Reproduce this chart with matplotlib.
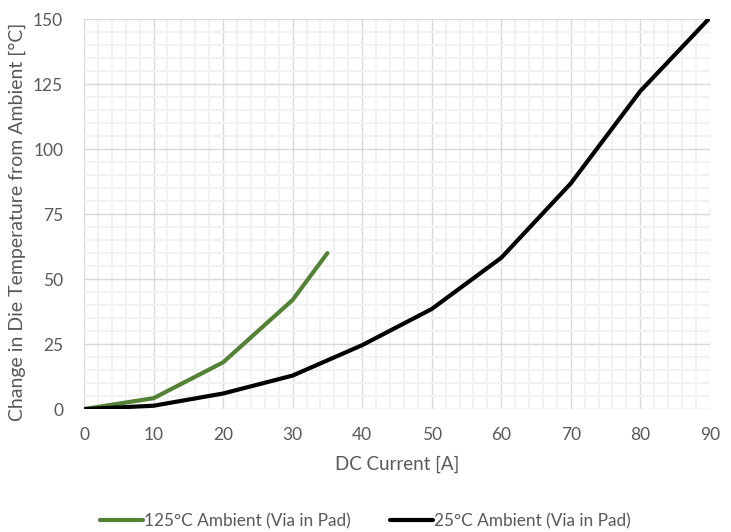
import matplotlib.pyplot as plt
from matplotlib.ticker import MultipleLocator

plt.rcParams['font.family'] = ['Lato', 'DejaVu Sans']

current_125 = [0, 10, 20, 30, 35]
temp_125 = [0, 4.2, 18.0, 42.0, 60.0]

current_25 = [0, 10, 20, 30, 40, 50, 60, 70, 80, 90]
temp_25 = [0, 1.3, 6.0, 12.9, 24.6, 38.5, 58.2, 86.8, 122.3, 150.5]

label_125 = '125°C Ambient (Via in Pad)'
label_25 = '25°C Ambient (Via in Pad)'

text_grey = '#595959'

fig = plt.figure(figsize=(7.31, 5.32), dpi=100)
ax = fig.add_axes([0.115, 0.231, 0.856, 0.733])

ax.plot(current_125, temp_125, color='#548235', lw=3, solid_capstyle='round',
        label=label_125, zorder=3)
ax.plot(current_25, temp_25, color='black', lw=3, solid_capstyle='round',
        label=label_25, zorder=3)

ax.set_xlim(0, 90)
ax.set_ylim(0, 150)
ax.xaxis.set_major_locator(MultipleLocator(10))
ax.xaxis.set_minor_locator(MultipleLocator(2))
ax.yaxis.set_major_locator(MultipleLocator(25))
ax.yaxis.set_minor_locator(MultipleLocator(5))

ax.grid(which='minor', color='#f2f2f2', lw=1.5, zorder=0)
ax.grid(which='major', color='#d9d9d9', lw=1.0, zorder=1)
ax.set_axisbelow(True)
for s in ax.spines.values():
    s.set_visible(False)
ax.tick_params(which='both', length=0, labelsize=12.5, labelcolor=text_grey)
ax.tick_params(axis='y', pad=15)
ax.tick_params(axis='x', pad=13)

ax.set_xlabel('DC Current [A]', fontsize=13.5, color=text_grey, labelpad=9)
ax.set_ylabel('Change in Die Temperature from Ambient [°C]', fontsize=14,
              color=text_grey)
ax.yaxis.set_label_coords(-0.092, 0.48)

fig.legend(loc='center', bbox_to_anchor=(0.5, 0.02), ncol=2, frameon=False,
           fontsize=12.4, handlelength=2.5, handletextpad=0.05, columnspacing=2.3,
           labelcolor=text_grey)

fig.savefig('out.png', dpi=100)
